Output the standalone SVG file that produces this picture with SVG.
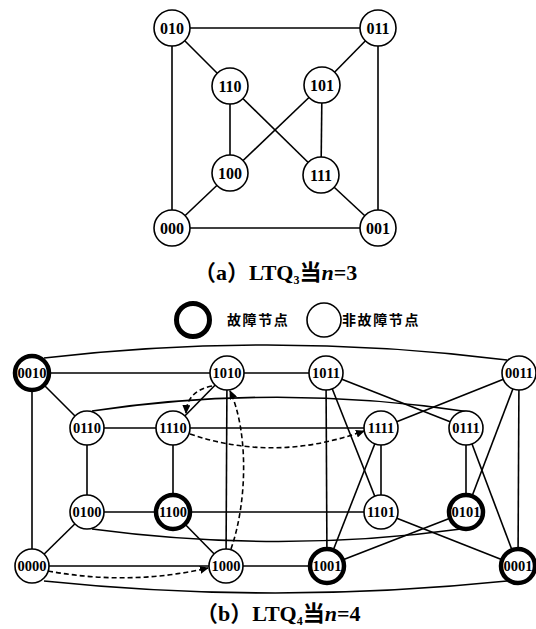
<svg xmlns="http://www.w3.org/2000/svg" width="536" height="629" viewBox="0 0 536 629">
<style>
.e{stroke:#000;stroke-width:1.6;fill:none}
.d{stroke:#000;stroke-width:1.6;fill:none;stroke-dasharray:5 3}
circle{fill:#fff;stroke:#000;stroke-width:1.6}
.f circle{stroke-width:4.5}
text{font-family:'Liberation Serif',serif;font-weight:bold;fill:#000}
.t{text-anchor:middle;dominant-baseline:central;font-size:14.5px}
.ta{text-anchor:middle;dominant-baseline:central;font-size:16px}
.cap{font-family:'Liberation Serif','Noto Sans CJK SC',serif;font-size:22px}
.lg{font-family:'Noto Sans CJK SC',sans-serif;font-size:14px;font-weight:bold;letter-spacing:1.6px}
</style>
<defs>
<marker id="ah" markerUnits="userSpaceOnUse" markerWidth="9" markerHeight="8" refX="8" refY="4" orient="auto">
<path d="M0,0 L9,4 L0,8 z" fill="#000"/>
</marker>
</defs>

<g id="connectors-a">
<line class="e" x1="172" y1="28" x2="378" y2="28"/>
<line class="e" x1="172" y1="28" x2="172" y2="228"/>
<line class="e" x1="378" y1="28" x2="378" y2="228"/>
<line class="e" x1="172" y1="228" x2="378" y2="228"/>
<line class="e" x1="172" y1="28" x2="230" y2="86"/>
<line class="e" x1="378" y1="28" x2="322" y2="85"/>
<line class="e" x1="230" y1="86" x2="230" y2="173"/>
<line class="e" x1="322" y1="85" x2="321" y2="175"/>
<line class="e" x1="230" y1="86" x2="321" y2="175"/>
<line class="e" x1="322" y1="85" x2="230" y2="173"/>
<line class="e" x1="230" y1="173" x2="172" y2="228"/>
<line class="e" x1="321" y1="175" x2="378" y2="228"/>
</g>
<g id="a010"><circle cx="172" cy="28" r="18"/><text class="ta" x="172" y="28">010</text></g>
<g id="a011"><circle cx="378" cy="28" r="18"/><text class="ta" x="378" y="28">011</text></g>
<g id="a110"><circle cx="230" cy="86" r="18"/><text class="ta" x="230" y="86">110</text></g>
<g id="a101"><circle cx="322" cy="85" r="18"/><text class="ta" x="322" y="85">101</text></g>
<g id="a100"><circle cx="230" cy="173" r="18"/><text class="ta" x="230" y="173">100</text></g>
<g id="a111"><circle cx="321" cy="175" r="18"/><text class="ta" x="321" y="175">111</text></g>
<g id="a000"><circle cx="172" cy="228" r="18"/><text class="ta" x="172" y="228">000</text></g>
<g id="a001"><circle cx="378" cy="228" r="18"/><text class="ta" x="378" y="228">001</text></g>
<text class="cap" x="194" y="280">（a）LTQ<tspan font-size="12" dy="4">3</tspan><tspan dy="-4">当</tspan><tspan font-style="italic">n</tspan>=3</text>

<g id="legend">
<g class="f"><circle cx="193" cy="320" r="16.5" style="stroke-width:5"/></g>
<text class="lg" x="227" y="325">故障节点</text>
<circle cx="324" cy="320" r="17"/>
<text class="lg" x="342" y="325">非故障节点</text>
</g>

<g id="connectors-b">
<path class="e" d="M44 358 Q275 331 507 360"/>
<path class="e" d="M44 581 Q275 605 507 581"/>
<line class="e" x1="32" y1="373" x2="32" y2="566"/>
<line class="e" x1="519" y1="373" x2="518" y2="566"/>
<line class="e" x1="32" y1="373" x2="227" y2="373"/>
<line class="e" x1="227" y1="373" x2="326" y2="373"/>
<line class="e" x1="32" y1="373" x2="87" y2="428"/>
<line class="e" x1="519" y1="373" x2="466" y2="512"/>
<line class="e" x1="519" y1="373" x2="381" y2="428"/>
<line class="e" x1="326" y1="373" x2="466" y2="428"/>
<line class="e" x1="466" y1="428" x2="518" y2="566"/>
<path class="e" d="M92 411 Q280 383 470 412"/>
<path class="e" d="M92 529 Q280 554 461 529"/>
<line class="e" x1="87" y1="428" x2="87" y2="512"/>
<line class="e" x1="87" y1="428" x2="173" y2="428"/>
<line class="e" x1="173" y1="428" x2="381" y2="428"/>
<line class="e" x1="466" y1="428" x2="466" y2="512"/>
<line class="e" x1="87" y1="512" x2="32" y2="566"/>
<line class="e" x1="87" y1="512" x2="173" y2="512"/>
<line class="e" x1="173" y1="512" x2="381" y2="512"/>
<line class="e" x1="466" y1="512" x2="327" y2="566"/>
<line class="e" x1="32" y1="566" x2="226" y2="566"/>
<line class="e" x1="226" y1="566" x2="327" y2="566"/>
<line class="e" x1="381" y1="512" x2="518" y2="566"/>
<line class="e" x1="227" y1="373" x2="226" y2="566"/>
<line class="e" x1="227" y1="373" x2="173" y2="428"/>
<line class="e" x1="326" y1="373" x2="327" y2="566"/>
<line class="e" x1="326" y1="373" x2="381" y2="512"/>
<line class="e" x1="173" y1="428" x2="173" y2="512"/>
<line class="e" x1="381" y1="428" x2="381" y2="512"/>
<line class="e" x1="381" y1="428" x2="327" y2="566"/>
<line class="e" x1="173" y1="512" x2="226" y2="566"/>
<path class="d" d="M48 571 Q130 586 208 568" marker-end="url(#ah)"/>
<path class="d" d="M231 549 C248 500 248 430 230 391" marker-end="url(#ah)"/>
<path class="d" d="M212 386 Q187 391 186 413" marker-end="url(#ah)"/>
<path class="d" d="M190 434 Q275 463 364 431" marker-end="url(#ah)"/>
</g>

<g id="n0010" class="f"><circle cx="32" cy="373" r="17"/><text class="t" x="32" y="373">0010</text></g>
<g id="n1010"><circle cx="227" cy="373" r="17"/><text class="t" x="227" y="373">1010</text></g>
<g id="n1011"><circle cx="326" cy="373" r="17"/><text class="t" x="326" y="373">1011</text></g>
<g id="n0011"><circle cx="519" cy="373" r="17"/><text class="t" x="519" y="373">0011</text></g>
<g id="n0110"><circle cx="87" cy="428" r="17"/><text class="t" x="87" y="428">0110</text></g>
<g id="n1110"><circle cx="173" cy="428" r="17"/><text class="t" x="173" y="428">1110</text></g>
<g id="n1111"><circle cx="381" cy="428" r="17"/><text class="t" x="381" y="428">1111</text></g>
<g id="n0111"><circle cx="466" cy="428" r="17"/><text class="t" x="466" y="428">0111</text></g>
<g id="n0100"><circle cx="87" cy="512" r="17"/><text class="t" x="87" y="512">0100</text></g>
<g id="n1100" class="f"><circle cx="173" cy="512" r="17"/><text class="t" x="173" y="512">1100</text></g>
<g id="n1101"><circle cx="381" cy="512" r="17"/><text class="t" x="381" y="512">1101</text></g>
<g id="n0101" class="f"><circle cx="466" cy="512" r="17"/><text class="t" x="466" y="512">0101</text></g>
<g id="n0000"><circle cx="32" cy="566" r="17"/><text class="t" x="32" y="566">0000</text></g>
<g id="n1000"><circle cx="226" cy="566" r="17"/><text class="t" x="226" y="566">1000</text></g>
<g id="n1001" class="f"><circle cx="327" cy="566" r="17"/><text class="t" x="327" y="566">1001</text></g>
<g id="n0001" class="f"><circle cx="518" cy="566" r="17"/><text class="t" x="518" y="566">0001</text></g>
<text class="cap" x="196" y="621">（b）LTQ<tspan font-size="12" dy="4">4</tspan><tspan dy="-4">当</tspan><tspan font-style="italic">n</tspan>=4</text>
</svg>
